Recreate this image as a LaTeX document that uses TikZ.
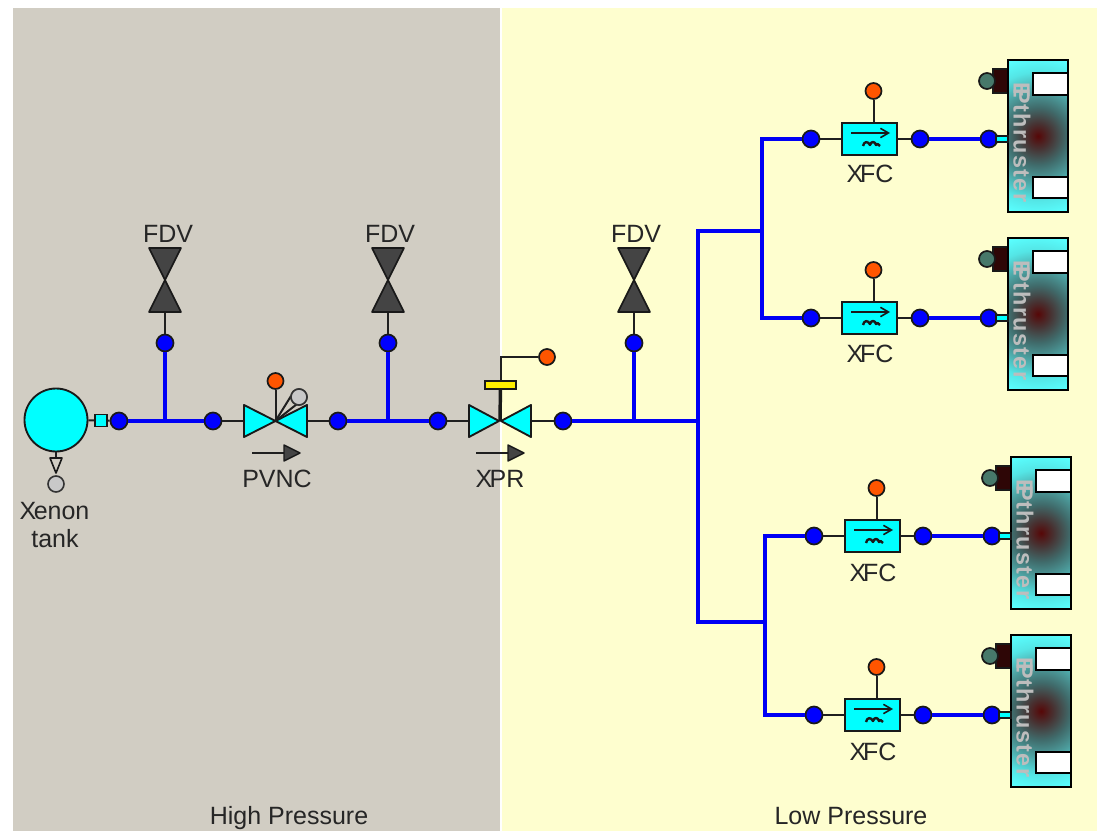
\documentclass[tikz,border=0pt]{standalone}
\usepackage{fontspec}
\setmainfont{Liberation Sans}
\usetikzlibrary{arrows.meta}
\definecolor{hpbg}{HTML}{D1CDC3}
\definecolor{lpbg}{HTML}{FEFECF}
\definecolor{pipeblue}{HTML}{0000F5}
\definecolor{cyanfill}{HTML}{00FFFF}
\definecolor{orangefill}{HTML}{FF5500}
\definecolor{valvedark}{HTML}{444444}
\definecolor{greyball}{HTML}{C8C8C8}
\definecolor{heaterball}{HTML}{47786A}
\definecolor{heaterblock}{HTML}{2E0606}
\definecolor{yellowbar}{HTML}{FFEE00}
\definecolor{thrustlabel}{HTML}{BDBDBD}
\pgfdeclareradialshading{thrustshade}{\pgfpoint{0bp}{0bp}}{%
 rgb(0bp)=(0.34,0.03,0.03);
 rgb(4bp)=(0.28,0.20,0.20);
 rgb(9bp)=(0.25,0.42,0.42);
 rgb(14bp)=(0.30,0.62,0.62);
 rgb(20bp)=(0.33,0.90,0.90);
 rgb(25bp)=(0.35,1,1);
 rgb(50bp)=(0.35,1,1)}
\tikzset{
  x=0.75pt,y=-0.75pt,
  wire/.style={draw=black!88,line width=1.5pt},
  pipe/.style={draw=pipeblue,line width=2.7pt},
  junction/.style={circle,draw=black!90,fill=blue,line width=1.3pt,minimum size=17*0.75pt,inner sep=0pt},
  signalball/.style={circle,draw=black!90,fill=orangefill,line width=1.3pt,minimum size=16*0.75pt,inner sep=0pt},
  greyballnode/.style={circle,draw=black!80,fill=greyball,line width=1.2pt,minimum size=16*0.75pt,inner sep=0pt},
  lbl/.style={font=\fontsize{18.75pt}{22pt}\selectfont,text=black!85,inner sep=0pt},
  valveshape/.style={draw=black!90,fill=cyanfill,line width=1.4pt,line join=round},
  fdvshape/.style={draw=black!90,fill=valvedark,line width=1.2pt,line join=round},
}
\newcommand{\fdvunit}[3]{%
  \node[junction] (#1j) at (#2,343) {};
  \coordinate (#1v) at (#2,312);
  \draw[wire] (#1j) -- (#1v);
  \draw[fdvshape] (#2-16,312) -- (#2,280) -- (#2+16,312) -- cycle;
  \draw[fdvshape] (#2-16,248) -- (#2,280) -- (#2+16,248) -- cycle;
  \node[lbl] (#1l) at (#3,234) {FDV};
}
\newcommand{\flowarrow}[2]{%
  \coordinate (#2s) at (#1,453);
  \coordinate (#2e) at (#1+33,453);
  \draw[wire] (#2s) -- (#2e);
  \draw[draw=black!90,fill=valvedark,line width=1.1pt,line join=round] (#1+32,445) -- (#1+48,453) -- (#1+32,461) -- cycle;
}
\newcommand{\xfcunit}[5]{%
  \begin{scope}[shift={(#2,#3)}]
    \node[junction] (#1a) at (811,139) {};
    \node[junction] (#1b) at (920,139) {};
    \node[draw=black!90,fill=cyanfill,line width=1.4pt,minimum width=55*0.75pt,minimum height=32*0.75pt,inner sep=0pt] (#1x) at (869.5,139) {};
    \node[signalball] (#1s) at (873.5,91) {};
    \draw[wire] (#1a) -- (#1x.west |- #1a);
    \draw[wire] (#1x.east |- #1b) -- (#1b);
    \draw[wire] (#1s) -- (#1s |- #1x.north);
    \draw[black!90,line width=1.2pt,-{Straight Barb[length=6pt,width=7pt]}] (851,133) -- (890,133);
    \draw[black!90,line width=1.8pt,line join=round] (863,146) .. controls (864,141) and (868,141) .. (870,145) .. controls (871,141) and (875,141) .. (876,145) .. controls (877,143) and (878,144) .. (880,146);
    \node[lbl] (#1l) at (870,174+#4) {X\kern-.12em FC};
  \end{scope}
  \begin{scope}[shift={(#2,#5)}]
    \draw[draw=black!90,fill=heaterblock,line width=1.1pt] (993,69) rectangle (1008,93);
    \node[circle,draw=black!90,fill=heaterball,line width=1.3pt,minimum size=16*0.75pt,inner sep=0pt] (#1h) at (987,81) {};
    \begin{scope}
      \clip (1008,60) rectangle (1068.5,212);
      \shade[shading=thrustshade] (1038,136) circle (80);
    \end{scope}
    \draw[black,line width=1.4pt] (1008,60) rectangle (1068,212);
    \draw[black,fill=white,line width=1.4pt] (1033,73) rectangle (1068,95);
    \draw[black,fill=white,line width=1.4pt] (1033,177) rectangle (1068,198);
    \node[inner sep=0pt,rotate=-90,text=thrustlabel,font=\fontsize{17.5pt}{20pt}\bfseries\selectfont] (#1t) at (1022,142.5) {E\kern-.42em P\addfontfeature{LetterSpace=6}thruster};
  \end{scope}
}
\begin{document}
\begin{tikzpicture}
\useasboundingbox (0,0) rectangle (1098,831);
\fill[white] (0,0) rectangle (1098,831);
\fill[hpbg] (13,8) rectangle (500,831);
\fill[lpbg] (502,8) rectangle (1097,831);

% tank
\node[circle,draw=black!90,fill=cyanfill,line width=1.4pt,minimum size=63*0.75pt,inner sep=0pt] (tank) at (56,420) {};
\node[draw=black!90,fill=cyanfill,line width=1.2pt,minimum size=12*0.75pt,inner sep=0pt] (port) at (101,420.5) {};
\node[junction] (j0) at (119,421) {};
\draw[wire] (tank) -- (port);
\draw[wire] (port) -- (j0);
\coordinate (tanktri) at (56,458);
\draw[wire] (tank) -- (tanktri);
\draw[draw=black!90,fill=hpbg,line width=1.2pt,line join=round] (50,458) -- (62,458) -- (56,473) -- cycle;
\node[greyballnode] (fillball) at (56,484) {};
\node[lbl] (xenon) at (54.5,511) {X\kern-.1em enon};
\node[lbl] (tanklabel) at (55,539) {tank};

% junctions on the main line
\node[junction] (j1) at (213,421) {};
\node[junction] (j2) at (338,421) {};
\node[junction] (j3) at (438,421) {};
\node[junction] (j4) at (563,421) {};

% FDVs
\fdvunit{f1}{165}{168}
\fdvunit{f2}{388}{390}
\fdvunit{f3}{634}{636}

% PVNC
\coordinate (pvncc) at (275.5,421);
\coordinate (pvncl) at (244,421);
\coordinate (pvncr) at (307,421);
\node[signalball] (pvncs) at (275.5,381) {};
\node[greyballnode] (pvncg) at (299,397) {};
\draw[wire] (j1) -- (pvncl);
\draw[wire] (pvncr) -- (j2);
\draw[valveshape] (244,405) -- (275.5,421) -- (244,437) -- cycle;
\draw[valveshape] (307,405) -- (275.5,421) -- (307,437) -- cycle;
\draw[wire] (pvncs) -- (pvncc);
\draw[wire] (pvncc) -- (291,396);
\draw[wire] (pvncc) -- (297,404);
\node[greyballnode] at (pvncg) {};
\flowarrow{252}{pvncf}
\node[lbl] (pvnclabel) at (277,479) {PVNC};

% XPR
\coordinate (xprc) at (500,421);
\coordinate (xprl) at (469,421);
\coordinate (xprr) at (531,421);
\node[draw=black!90,fill=yellowbar,line width=1.3pt,minimum width=31*0.75pt,minimum height=8*0.75pt,inner sep=0pt] (xprbar) at (500.5,385) {};
\node[signalball] (xprs) at (547,357) {};
\draw[wire] (j3) -- (xprl);
\draw[wire] (xprr) -- (j4);
\draw[draw=black!90,line width=2.6pt] (xprbar) -- (xprc);
\draw[valveshape] (469,405) -- (499,421) -- (469,437) -- cycle;
\draw[valveshape] (531,405) -- (501,421) -- (531,437) -- cycle;
\draw[wire] (xprbar.north) |- (xprs);
\flowarrow{476}{xprf}
\node[lbl] (xprlabel) at (500,479) {X\kern-.1em PR};

% XFC units
\xfcunit{u1}{0}{0}{0}{0}
\xfcunit{u2}{0}{179}{1}{178}
\xfcunit{u3}{3}{397}{2}{397}
\xfcunit{u4}{3}{576}{2}{575}

% pipes
\coordinate (n1) at (165,421);
\coordinate (n2) at (388,421);
\coordinate (n3) at (634,421);
\coordinate (t) at (698,421);
\coordinate (tu) at (698,231);
\coordinate (td) at (698,622);
\coordinate (bu) at (762,231);
\coordinate (bd) at (765,622);
\coordinate (u1c) at (762,139);
\coordinate (u2c) at (762,318);
\coordinate (u3c) at (765,536);
\coordinate (u4c) at (765,715);
\draw[pipe] (j0) -- (n1) -- (j1);
\draw[pipe] (n1) -- (f1j);
\draw[pipe] (j2) -- (n2) -- (j3);
\draw[pipe] (n2) -- (f2j);
\draw[pipe] (j4) -- (n3) -- (t);
\draw[pipe] (n3) -- (f3j);
\draw[pipe,line join=miter] (bu) -- (tu) -- (td) -- (bd);
\draw[pipe,line join=miter] (u1a) -- (u1c) -- (u2c) -- (u2a);
\draw[pipe,line join=miter] (u3a) -- (u3c) -- (u4c) -- (u4a);

% thruster feeds
\foreach \u/\dx/\dy in {u1/0/0,u2/0/179,u3/3/397,u4/3/576}{
  \node[junction] (\u e) at (989+\dx,139+\dy) {};
  \draw[pipe] (\u b) -- (\u e);
  \draw[draw=black!90,fill=cyanfill,line width=1pt] (996+\dx,136+\dy) rectangle (1008+\dx,142+\dy);
}

% zone labels
\node[lbl] (hp) at (289,818) {High Pressure};
\node[lbl] (lp) at (851,816) {Low Pressure};
\end{tikzpicture}
\end{document}
